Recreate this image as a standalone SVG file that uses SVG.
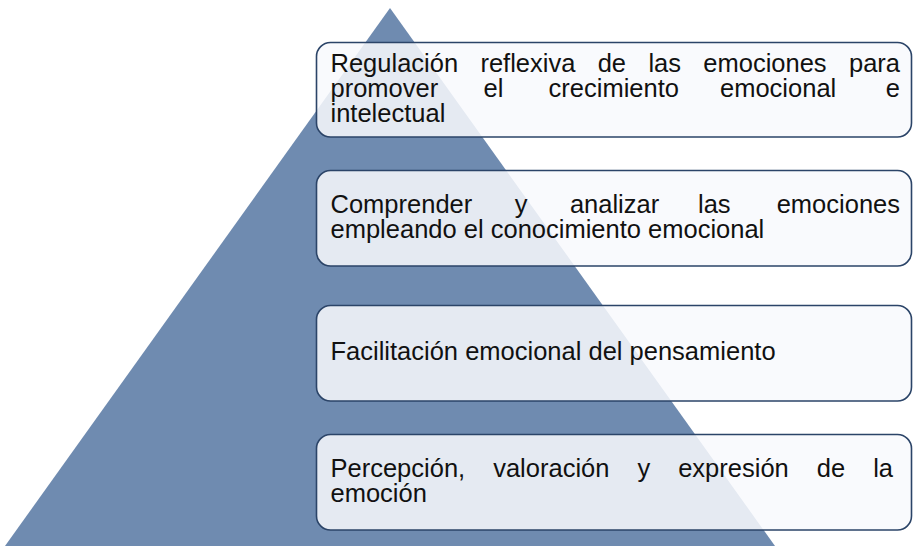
<svg xmlns="http://www.w3.org/2000/svg" width="913" height="546" viewBox="0 0 913 546">
  <style>
    .box { fill: #F8F9FD; fill-opacity: 0.86; stroke: #2B4468; stroke-width: 1.6; }
    .lbl { font-family: "Liberation Sans", Arial, sans-serif; font-size: 25.5px; fill: #111111; }
  </style>
  <rect width="913" height="546" fill="#FFFFFF"/>
  <g id="pyramid">
    <polygon points="390,8 5,546 775,546" fill="#6F8BB0"/>
  </g>
  <g id="connectors"></g>
  <g id="node1">
    <rect class="box" x="316.5" y="42.5" width="595" height="94.5" rx="14" ry="14"/>
    <text class="lbl">
      <tspan x="330.5" y="72">Regulación</tspan><tspan x="480.4" y="72">reflexiva</tspan><tspan x="597.7" y="72">de</tspan><tspan x="648.4" y="72">las</tspan><tspan x="703.3" y="72">emociones</tspan><tspan x="849" y="72">para</tspan>
      <tspan x="330.5" y="97">promover</tspan><tspan x="483.5" y="97">el</tspan><tspan x="548.6" y="97">crecimiento</tspan><tspan x="720" y="97">emocional</tspan><tspan x="885.8" y="97">e</tspan>
      <tspan x="330.5" y="122">intelectual</tspan>
    </text>
  </g>
  <g id="node2">
    <rect class="box" x="316.5" y="170.5" width="595" height="95.5" rx="14" ry="14"/>
    <text class="lbl">
      <tspan x="330.5" y="213">Comprender</tspan><tspan x="514.7" y="213">y</tspan><tspan x="569.9" y="213">analizar</tspan><tspan x="698" y="213">las</tspan><tspan x="776.7" y="213">emociones</tspan>
      <tspan x="330.5" y="238">empleando el conocimiento emocional</tspan>
    </text>
  </g>
  <g id="node3">
    <rect class="box" x="316.5" y="305.5" width="595" height="95.5" rx="14" ry="14"/>
    <text class="lbl">
      <tspan x="330.5" y="360">Facilitación emocional del pensamiento</tspan>
    </text>
  </g>
  <g id="node4">
    <rect class="box" x="316.5" y="434.5" width="595" height="95.5" rx="14" ry="14"/>
    <text class="lbl">
      <tspan x="330.5" y="477">Percepción,</tspan><tspan x="493.2" y="477">valoración</tspan><tspan x="637.4" y="477">y</tspan><tspan x="678.2" y="477">expresión</tspan><tspan x="816.8" y="477">de</tspan><tspan x="873.2" y="477">la</tspan>
      <tspan x="330.5" y="502">emoción</tspan>
    </text>
  </g>
</svg>
